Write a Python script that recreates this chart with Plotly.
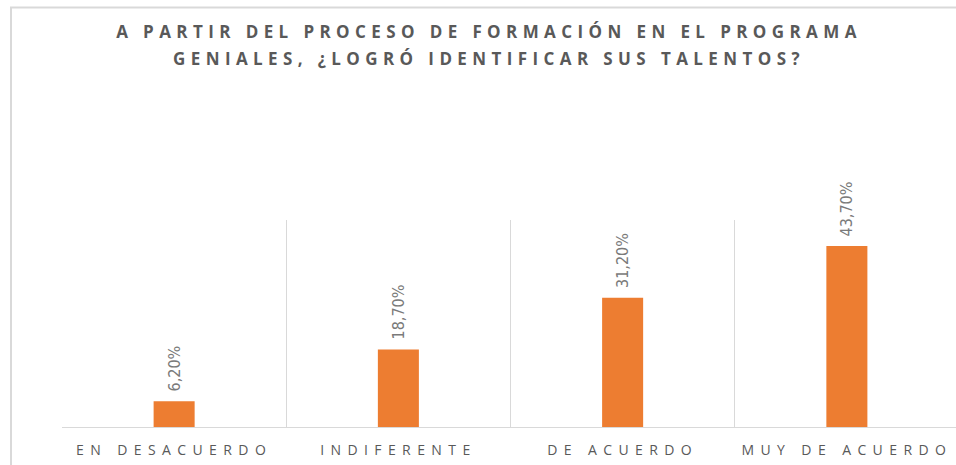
import plotly.graph_objects as go

categories = ["EN DESACUERDO", "INDIFERENTE", "DE ACUERDO", "MUY DE ACUERDO"]
values = [6.2, 18.7, 31.2, 43.7]
value_labels = ["6,20%", "18,70%", "31,20%", "43,70%"]
title_text = "A PARTIR DEL PROCESO DE FORMACIÓN EN EL PROGRAMA<br>GENIALES, ¿LOGRÓ IDENTIFICAR SUS TALENTOS?"

W, H = 956, 465
ML, MR, MT, MB = 62, 0, 220, 38
plot_w = W - ML - MR
plot_h = H - MT - MB

fig = go.Figure()
fig.add_trace(go.Bar(
    x=categories, y=values, width=0.183,
    marker=dict(color="#ED7D31", line=dict(width=0)),
    hoverinfo="skip",
))

for c, v, t in zip(categories, values, value_labels):
    fig.add_annotation(
        x=c, y=v, xref="x", yref="y", text=t, showarrow=False,
        textangle=-90, xanchor="center", yanchor="bottom", yshift=8,
        font=dict(family="Liberation Sans Narrow, DejaVu Sans Condensed, Roboto", size=16, color="#7A7A7A"),
    )

# outer frame of the chart area
fig.add_shape(
    type="rect", xref="paper", yref="paper",
    x0=(11 - ML) / plot_w, x1=1.1,
    y0=-0.4, y1=(plot_h + MT - 7.5) / plot_h,
    line=dict(color="#D9D9D9", width=2), layer="below",
)

fig.update_layout(
    width=W, height=H,
    margin=dict(l=ML, r=MR, t=MT, b=MB, pad=0),
    paper_bgcolor="white", plot_bgcolor="white",
    showlegend=False,
    title=dict(
        text=title_text, x=489 / W, xanchor="center", xref="container",
        y=1 - 38 / H, yanchor="top", yref="container",
        font=dict(family="Open Sans", size=17, color="#595959", weight="bold"),
    ),
    xaxis=dict(
        type="category", categoryorder="array", categoryarray=categories,
        range=[-0.5, -0.5 + 4 * plot_w / 897],
        tickson="boundaries", ticks="", showgrid=True, gridcolor="#D9D9D9", gridwidth=1,
        showline=True, linecolor="#D9D9D9", linewidth=1,
        tickfont=dict(family="Open Sans", size=14, color="#595959"),
        ticklabelstandoff=10, zeroline=False,
    ),
    yaxis=dict(range=[0, 50], visible=False, showgrid=False, zeroline=False),
)

js = """
document.body.style.margin = '0';
var gd = document.getElementById('{plot_id}');
gd.querySelectorAll('.gtitle').forEach(function(e){ e.style.letterSpacing = '5.4px'; });
gd.querySelectorAll('.xtick text').forEach(function(e){ e.style.letterSpacing = '6.4px'; });
var lines = gd.querySelectorAll('.gtitle tspan.line');
if (lines.length > 1) { lines[1].setAttribute('dy', '1.6em'); }
"""

fig.write_html("out.html", post_script=js, config={"displayModeBar": False})
